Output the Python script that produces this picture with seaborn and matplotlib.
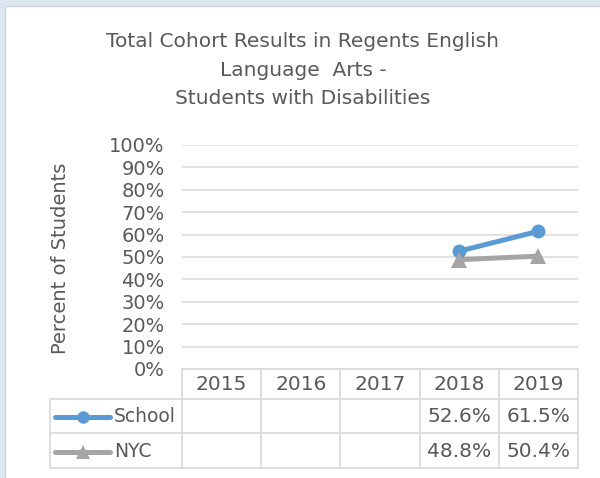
import numpy as np
import pandas as pd
import matplotlib
matplotlib.use("Agg")
import matplotlib.pyplot as plt
import matplotlib.transforms as mtransforms
from matplotlib.lines import Line2D
from matplotlib.patches import Rectangle
import seaborn as sns

# ---- data ----
years = [2015, 2016, 2017, 2018, 2019]
school = [np.nan, np.nan, np.nan, 52.6, 61.5]
nyc = [np.nan, np.nan, np.nan, 48.8, 50.4]
series_names = ["School", "NYC"]
yticks = list(range(0, 101, 10))
title = "Total Cohort Results in Regents English\nLanguage  Arts -\nStudents with Disabilities"
ylabel = "Percent of Students"

colors = {"School": "#5b9bd5", "NYC": "#a5a5a5"}
markers = {"School": "o", "NYC": "^"}
msizes = {"School": 10, "NYC": 11.5}
txt_color = "#595959"
grid_color = "#d9d9d9"

df = pd.DataFrame({
    "year": years * 2,
    "value": school + nyc,
    "series": ["School"] * len(years) + ["NYC"] * len(years),
})

sns.set_theme(style="white")
plt.rcParams["font.family"] = ["DejaVu Sans"]

W, H = 600, 478
fig = plt.figure(figsize=(W / 100, H / 100), dpi=100, facecolor="white")
ax = fig.add_axes([182 / W, 1 - 369 / H, (578 - 182) / W, (369 - 145) / H])

# pixel (top-left origin) transform
pix = mtransforms.Affine2D().scale(1, -1).translate(0, H).scale(1 / W, 1 / H) + fig.transFigure

# background strips
fig.add_artist(Rectangle((0, 0), W, 6, transform=pix, facecolor="#dce6f1", edgecolor="none", zorder=-5))
fig.add_artist(Rectangle((0, 0), 5, H, transform=pix, facecolor="#dce6f1", edgecolor="none", zorder=-5))
fig.add_artist(Line2D([5, W], [6, 6], transform=pix, color="#cfd6df", lw=1))
fig.add_artist(Line2D([5, 5], [6, H], transform=pix, color="#cfd6df", lw=1))

for s in series_names:
    sub = df[df["series"] == s]
    sns.lineplot(data=sub, x="year", y="value", ax=ax, color=colors[s],
                 marker=markers[s], markersize=msizes[s], markeredgewidth=0,
                 linewidth=3.6, zorder=3, legend=False)

ax.set_xlim(years[0] - 0.5, years[-1] + 0.5)
ax.set_ylim(0, 100)
ax.set_yticks(yticks)
ax.set_yticklabels([f"{v}%" for v in yticks])
ax.set_xticks([])
ax.set_xlabel("")
ax.set_ylabel("")
for sp in ax.spines.values():
    sp.set_visible(False)
ax.tick_params(axis="y", length=0, pad=12.5, labelsize=14, labelcolor=txt_color)
for v in yticks:
    ax.axhline(v, color=grid_color, lw=1.1, zorder=1)
ax.set_facecolor("white")
ax.patch.set_alpha(0)

# y label
fig.text(61 / W, 1 - 258 / H, ylabel, rotation=90, ha="center", va="center",
         fontsize=14, color=txt_color)

# title
fig.text(303 / W, 1 - 70 / H, title, ha="center", va="center", multialignment="center",
         fontsize=14.5, color=txt_color, linespacing=1.62)

# ---- data table ----
tb = mtransforms.blended_transform_factory(ax.transData, pix)
row_edges = [369, 399, 433, 468]
x_left = years[0] - 0.5
x_right = years[-1] + 0.5
lw_t = 1.2
fs_t = 14.5
# horizontal lines
fig.add_artist(Line2D([x_left, x_right], [row_edges[0]] * 2, transform=tb, color=grid_color, lw=lw_t))
for y in row_edges[1:]:
    fig.add_artist(Line2D([50, 182], [y, y], transform=pix, color=grid_color, lw=lw_t))
    fig.add_artist(Line2D([x_left, x_right], [y, y], transform=tb, color=grid_color, lw=lw_t))
# vertical lines
for i in range(len(years) + 1):
    xv = years[0] - 0.5 + i
    fig.add_artist(Line2D([xv, xv], [row_edges[0], row_edges[-1]], transform=tb, color=grid_color, lw=lw_t))
fig.add_artist(Line2D([50, 50], [row_edges[1], row_edges[-1]], transform=pix, color=grid_color, lw=lw_t))

# header
for yr in years:
    fig.text(yr, (row_edges[0] + row_edges[1]) / 2 + 1, str(yr), transform=tb, ha="center", va="center",
             fontsize=fs_t, color=txt_color)
# rows
for r, (name, vals) in enumerate(zip(series_names, [school, nyc])):
    yc = (row_edges[r + 1] + row_edges[r + 2]) / 2 + 1
    fig.add_artist(Line2D([55, 110], [yc, yc], transform=pix, color=colors[name], lw=3.6,
                          solid_capstyle="round"))
    fig.add_artist(Line2D([83], [yc], transform=pix, color=colors[name], marker=markers[name],
                          markersize=msizes[name] - 1, markeredgewidth=0, lw=0))
    fig.text(114, yc, name, transform=pix, ha="left", va="center", fontsize=13.5, color=txt_color)
    for yr, v in zip(years, vals):
        if not np.isnan(v):
            fig.text(yr, yc, f"{v:.1f}%", transform=tb, ha="center", va="center",
                     fontsize=fs_t, color=txt_color)

fig.savefig("out.png", dpi=100, facecolor="white")
